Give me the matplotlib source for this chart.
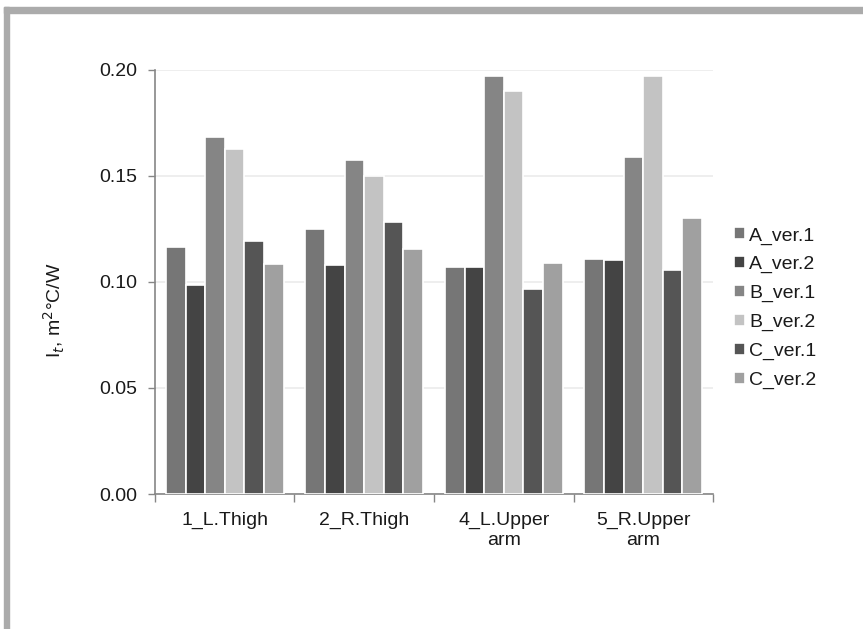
import matplotlib
matplotlib.use("Agg")
import matplotlib.pyplot as plt
import numpy as np
from matplotlib.patches import Rectangle

plt.rcParams['font.family'] = ['Liberation Sans', 'DejaVu Sans']

categories = ["1_L.Thigh", "2_R.Thigh", "4_L.Upper\narm", "5_R.Upper\narm"]
series_names = ["A_ver.1", "A_ver.2", "B_ver.1", "B_ver.2", "C_ver.1", "C_ver.2"]
a_ver1 = [0.1165, 0.1250, 0.1071, 0.1107]
a_ver2 = [0.0986, 0.1079, 0.1071, 0.1101]
b_ver1 = [0.1680, 0.1574, 0.1968, 0.1586]
b_ver2 = [0.1625, 0.1500, 0.1899, 0.1968]
c_ver1 = [0.1190, 0.1280, 0.0966, 0.1055]
c_ver2 = [0.1085, 0.1156, 0.1088, 0.1299]
series_values = [a_ver1, a_ver2, b_ver1, b_ver2, c_ver1, c_ver2]
series_colors = ["#767676", "#444444", "#858585", "#c3c3c3", "#555555", "#a0a0a0"]
y_ticks = [0.00, 0.05, 0.10, 0.15, 0.20]

FS = 14
TXT = "#1a1a1a"

fig = plt.figure(figsize=(8.63, 6.29), dpi=100)
ax = fig.add_axes([0.1796, 0.2146, 0.6466, 0.6749])

# outer frame strips (top and left)
fig.patches.append(Rectangle((4 / 863, 0), 5 / 863, 1 - 7 / 629,
                             transform=fig.transFigure, color="#ababab", zorder=0))
fig.patches.append(Rectangle((4 / 863, 1 - 12.5 / 629), 1, 5.5 / 629,
                             transform=fig.transFigure, color="#ababab", zorder=0))

n = len(series_names)
x = np.arange(len(categories))
slot = 0.1405
for i, (name, vals, col) in enumerate(zip(series_names, series_values, series_colors)):
    offs = (i - (n - 1) / 2) * slot
    ax.bar(x + offs, vals, width=slot, color=col, edgecolor="white",
           linewidth=1.2, label=name, zorder=3)

ax.set_xlim(-0.5, len(categories) - 0.5)
ax.set_ylim(0, 0.20)
ax.set_yticks(y_ticks)
ax.set_yticklabels([f"{v:.2f}" for v in y_ticks], fontsize=FS, color=TXT)
ax.yaxis.grid(True, color="#ebebeb", linewidth=1.2, zorder=0)
ax.set_axisbelow(True)

ax.set_xticks(x)
ax.set_xticklabels(categories, fontsize=FS, color=TXT, linespacing=1.2)
ax.tick_params(axis="x", length=0, pad=13)
ax.set_xticks(np.arange(-0.5, len(categories)), minor=True)
ax.tick_params(axis="x", which="minor", length=6, width=1, color="#868686")
ax.tick_params(axis="y", length=5, width=1, color="#868686", pad=8)

for side in ("top", "right"):
    ax.spines[side].set_visible(False)
for side in ("left", "bottom"):
    ax.spines[side].set_color("#868686")
    ax.spines[side].set_linewidth(1.2)

ax.set_ylabel("I$_t$, m$^2$°C/W", fontsize=FS, color=TXT)
ax.yaxis.set_label_coords(-0.157, 0.433)

leg = ax.legend(loc="center left", bbox_to_anchor=(1.0376, 0.438), frameon=False,
                fontsize=FS, handlelength=0.57, handleheight=0.57,
                handletextpad=0.22, labelspacing=0.6, borderpad=0,
                borderaxespad=0)
for t in leg.get_texts():
    t.set_color(TXT)

fig.savefig("out.png", dpi=100)
